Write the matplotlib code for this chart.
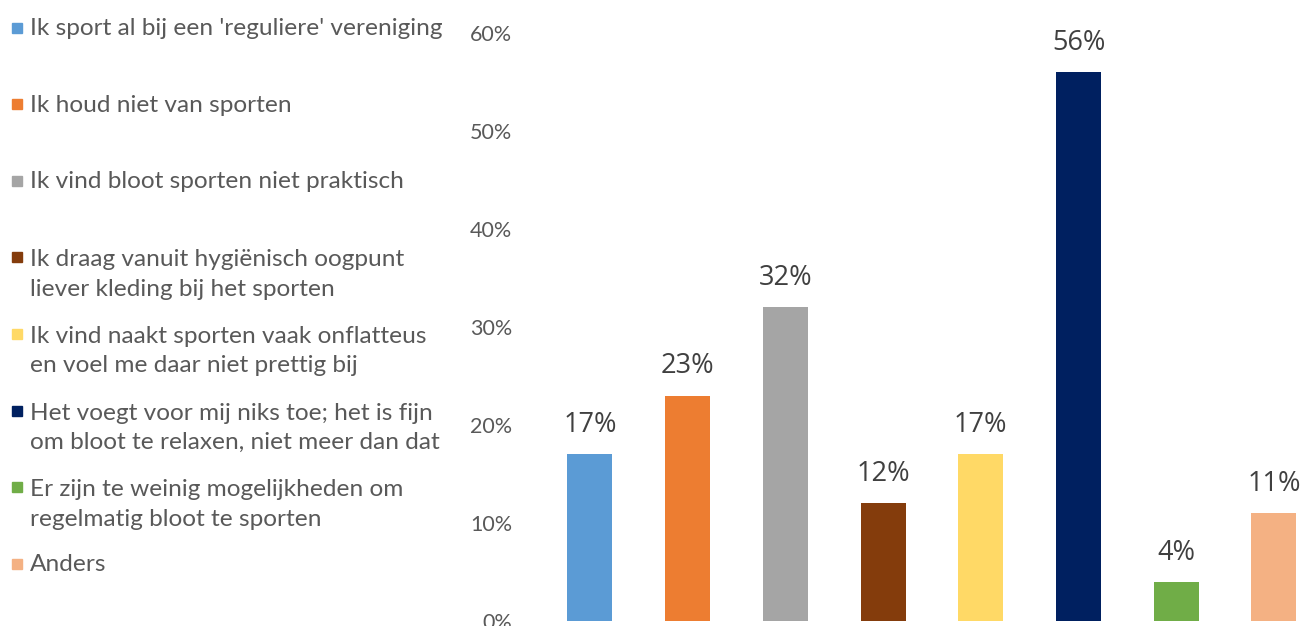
import matplotlib
matplotlib.use("Agg")
import matplotlib.pyplot as plt
from matplotlib.lines import Line2D

categories = [
    "Ik sport al bij een 'reguliere' vereniging",
    "Ik houd niet van sporten",
    "Ik vind bloot sporten niet praktisch",
    "Ik draag vanuit hygiënisch oogpunt\nliever kleding bij het sporten",
    "Ik vind naakt sporten vaak onflatteus\nen voel me daar niet prettig bij",
    "Het voegt voor mij niks toe; het is fijn\nom bloot te relaxen, niet meer dan dat",
    "Er zijn te weinig mogelijkheden om\nregelmatig bloot te sporten",
    "Anders",
]
values = [17, 23, 32, 12, 17, 56, 4, 11]
colors = ["#5B9BD5", "#ED7D31", "#A5A5A5", "#843C0C", "#FFD966", "#002060", "#70AD47", "#F4B183"]
yticks = [0, 10, 20, 30, 40, 50, 60]
ytick_labels = ["0%", "10%", "20%", "30%", "40%", "50%", "60%"]

W, H = 1306, 626
fig = plt.figure(figsize=(W / 100, H / 100), dpi=100)
fig.patch.set_facecolor("white")

ax_left, ax_right = 541.1, 1322.8
ax_bottom, ax_top = 621, 33
ax = fig.add_axes([ax_left / W, (H - ax_bottom) / H, (ax_right - ax_left) / W, (ax_bottom - ax_top) / H])
ax.set_facecolor("none")

x = list(range(len(values)))
bars = ax.bar(x, values, width=0.46, color=colors)
ax.set_xlim(-0.5, 7.5)
ax.set_ylim(0, 60)
ax.set_yticks(yticks)
ax.set_yticklabels(ytick_labels, fontfamily="Lato", fontsize=15.5, color="#595959")
ax.set_xticks([])
ax.tick_params(axis="y", length=0, pad=21)
for s in ax.spines.values():
    s.set_visible(False)

for xi, v in zip(x, values):
    ax.annotate(f"{v}%", (xi, v), xytext=(0, 11), textcoords="offset points",
                ha="center", va="bottom", fontfamily="Open Sans", fontsize=19.5, color="#404040")

# legend
step = 76.6
line_h = 31
for i, (lab, c) in enumerate(zip(categories, colors)):
    nlines = lab.count("\n") + 1
    base_last = 35 + step * i + line_h * (nlines - 1)
    fig.text(30 / W, 1 - base_last / H, lab, ha="left", va="baseline", fontfamily="Lato",
             fontsize=17.6, color="#595959", linespacing=1.5)
    fig.add_artist(Line2D([16.5 / W], [1 - (27.5 + step * i) / H],
                          marker="s", markersize=7.2, color=c, linestyle="none",
                          transform=fig.transFigure))

fig.savefig("out.png", dpi=100, facecolor="white")
